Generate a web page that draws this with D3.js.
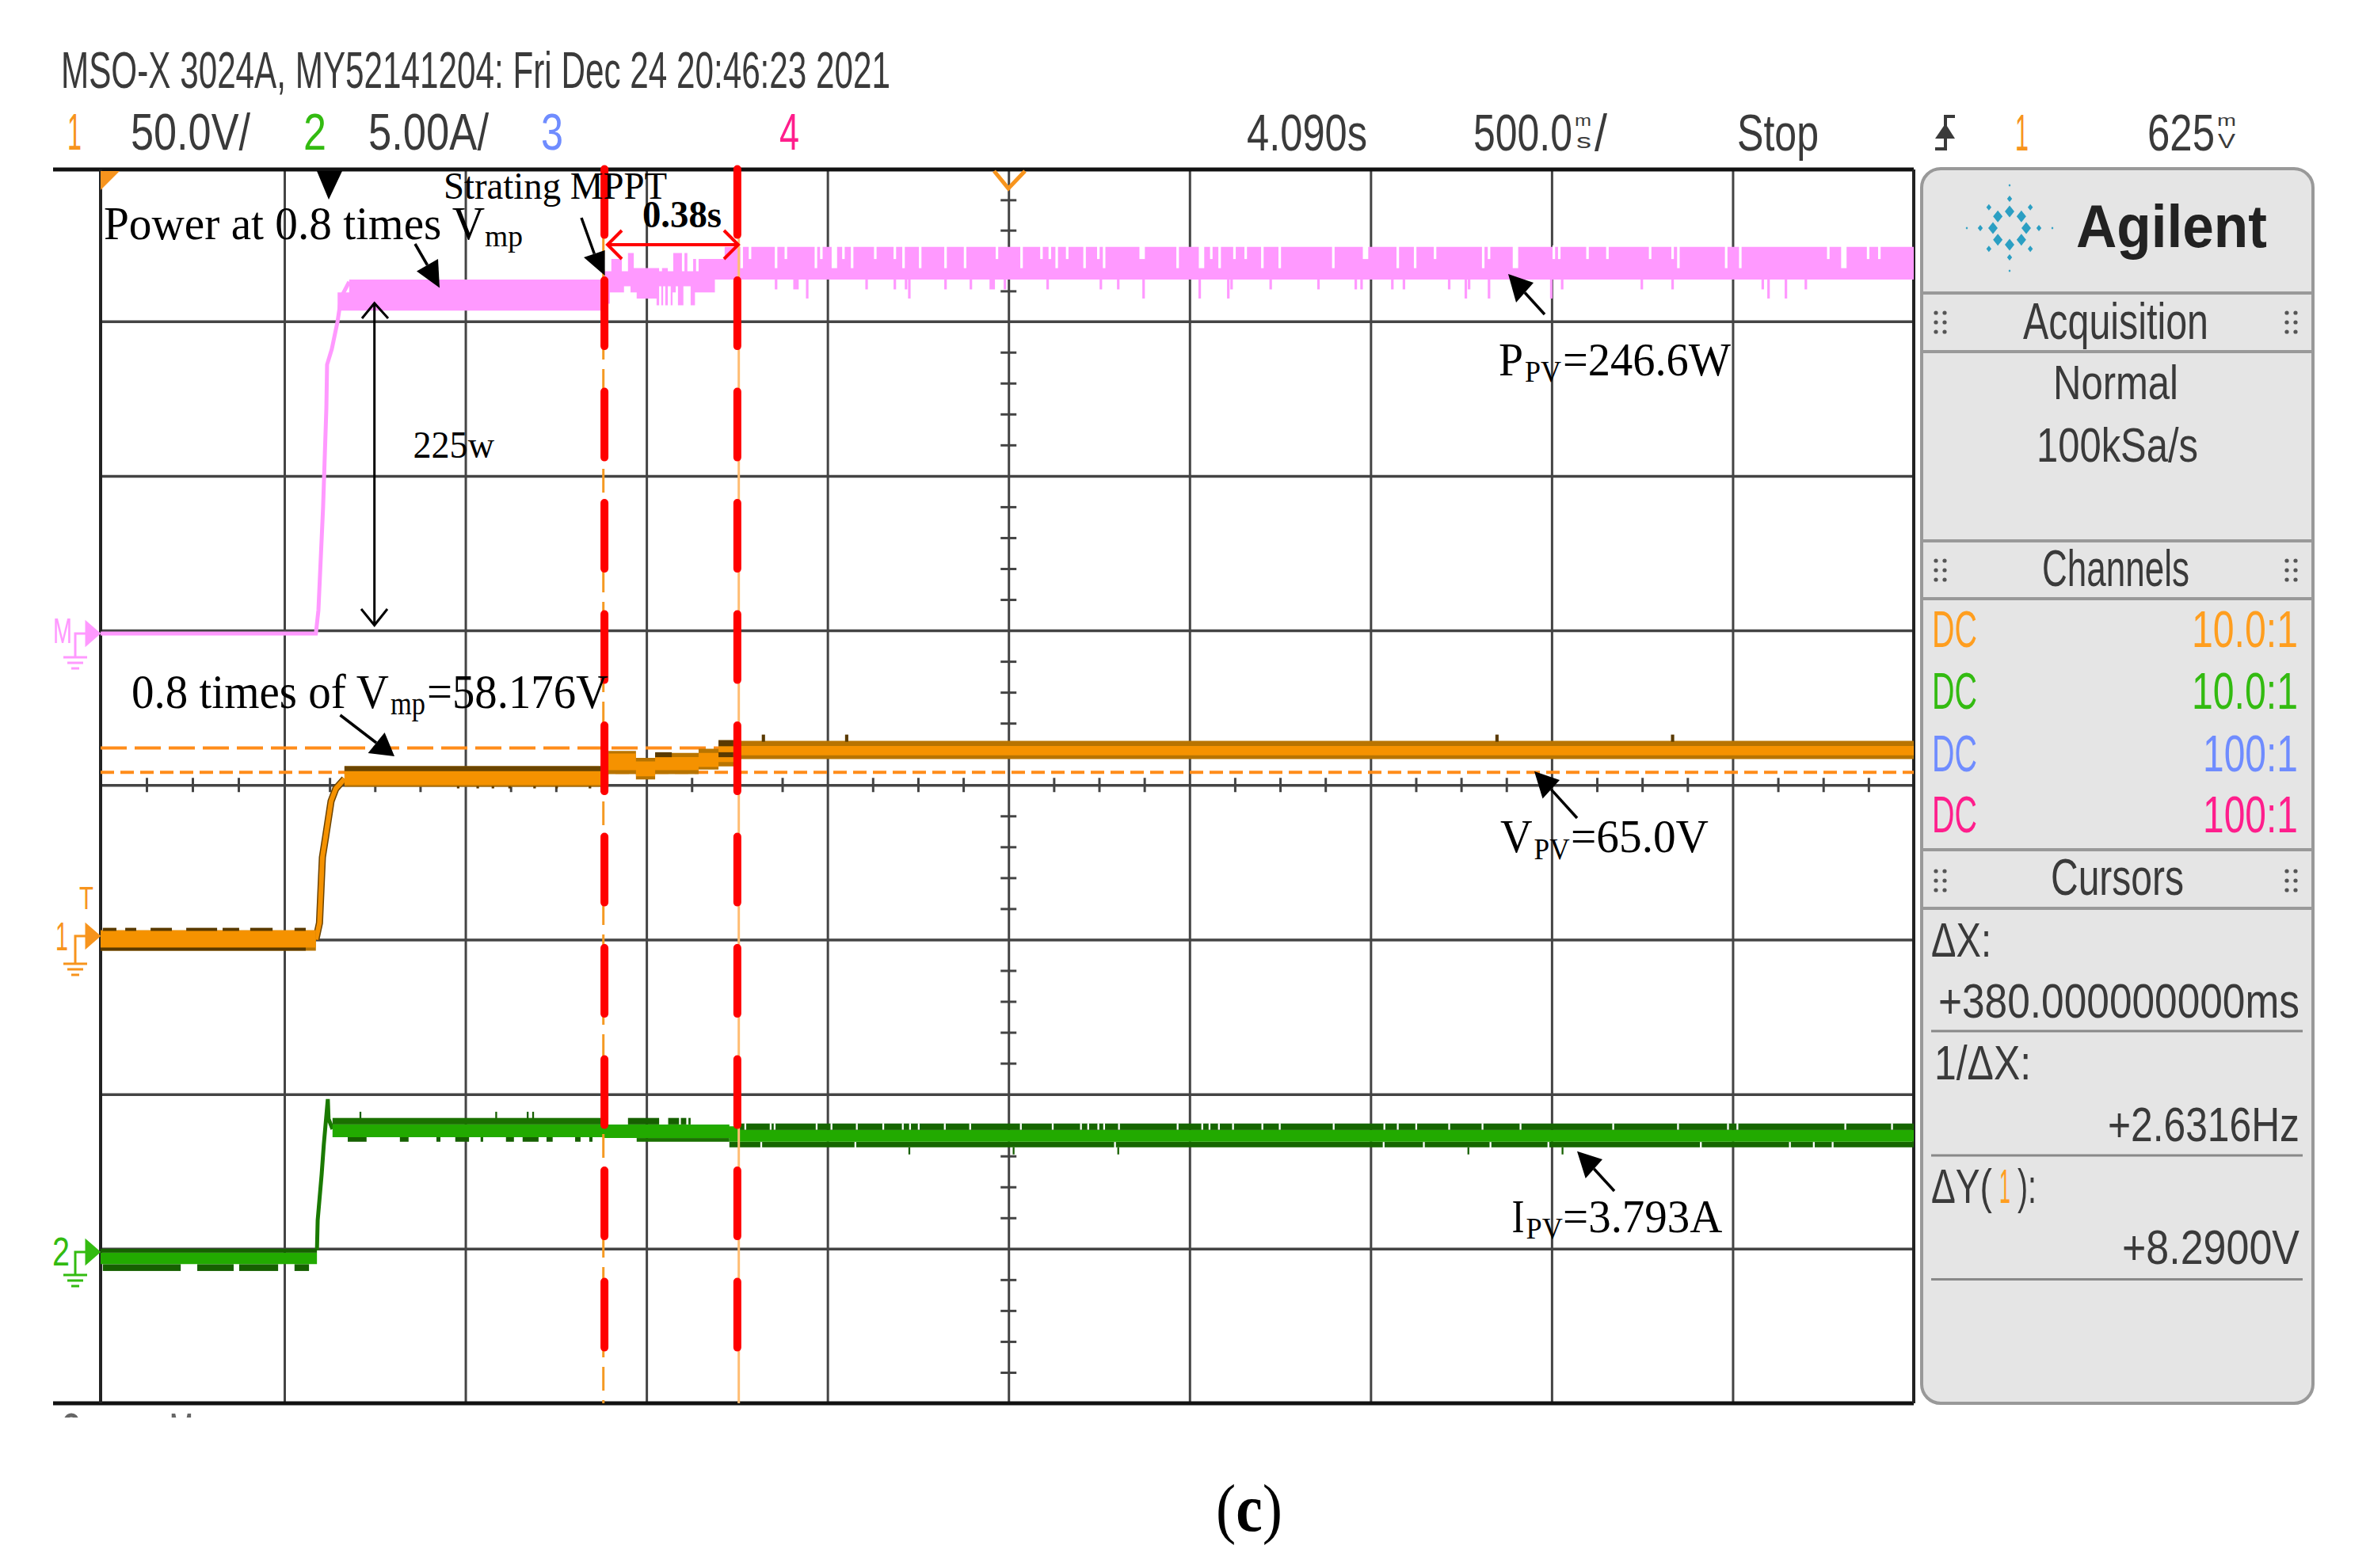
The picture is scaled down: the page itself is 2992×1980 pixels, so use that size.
<!DOCTYPE html>
<html>
<head>
<meta charset="utf-8">
<script src="https://cdn.jsdelivr.net/npm/d3@7"></script>
<style>
  body { margin: 0; background: #fff; }
  svg { display: block; }
</style>
</head>
<body>
<svg id="scope" width="2992" height="1980"></svg>
<script>
// Scope settings, one screen is 10 x 8 divisions
const msPerDiv = 500;
const wattsPerDiv = 100;
const voltsPerDiv = 50;
const ampsPerDiv = 5;

// Power trace (W), time in ms from the left of the screen
const pinkRiseT = [0, 587, 594, 607, 616, 618, 631, 647, 657, 679];
const pinkRiseW = [-2, -2, 13, 80, 144, 172, 182, 200, 216, 226];
const pinkHiT = [647, 679, 1384, 1403, 1432, 1449, 1465, 1535, 1543, 1559, 1574, 1598, 1605, 1613, 1629, 1637, 1644, 1716, 5000];
const pinkHiW = [219, 227.5, 233, 241, 233, 245, 235, 233, 235, 233, 245, 233, 245, 233, 241, 233, 241, 249, 249];
const pinkLoT = [647, 1384, 1399, 1438, 1456, 1473, 1528, 1535, 1541, 1546, 1552, 1559, 1567, 1572, 1581, 1587, 1602, 1622, 1634, 1689, 5000];
const pinkLoW = [207, 211.6, 219, 223, 219, 215, 210.6, 223, 210.6, 223, 210.6, 223, 210.6, 219, 223, 210.6, 223, 210.6, 219, 227.5, 227.5];
const notchDeepT = [1763, 1858, 1968, 2019, 2068, 2210, 2256, 2326, 2380, 2536, 2633, 2710, 2764, 2967, 3033, 3083, 3201, 3249, 3397, 3575, 3623, 3811, 3900, 4350, 4482, 4521, 4807];
const notchShallowT = [1786, 1885, 1983, 2044, 2132, 2186, 2468, 2591, 2614, 2662, 2748, 2869, 3060, 3124, 3155, 3486, 3678, 3827, 4006, 4021, 4099, 4154, 4272, 4334, 4764, 4874, 4905];
const spikeShallowT = [1858, 1913, 2108, 2186, 2217, 2326, 2396, 2455, 2490, 2608, 2755, 2803, 3116, 3224, 3356, 3459, 3475, 3560, 3592, 3717, 3772, 4029, 4249, 4334, 4583, 4702];
const spikeDeepT = [1944, 2226, 2873, 3028, 3107, 3763, 3827, 3999, 4599, 4647];
const wideT = [2019, 3033, 3900, 4807, 2869, 3486, 1913, 2455];

// Voltage trace (V)
const ch1T = [0, 587, 588, 666, 1395, 1471, 1524, 1644, 1699, 1755, 5000];
const ch1OuterHi = [3.0, 3.0, null, 56.1, 61.0, 58.8, 60.4, 61.7, 64.5, 64.3, 64.3];
const ch1OuterLo = [-3.6, -3.6, null, 49.4, 53.5, 51.8, 53.5, 55.0, 56.0, 58.4, 58.4];
const ch1CoreHi = [3.0, 3.0, null, 54.5, 60.2, 57.6, 59.0, 60.4, 62.4, 62.6, 62.6];
const ch1CoreLo = [-2.6, -2.6, null, 50.0, 54.8, 52.8, 54.8, 55.8, 57.4, 59.6, 59.6];
const ch1RiseT = [587, 597, 605, 614, 629, 642, 666];
const ch1RiseV = [0, 5.4, 26.6, 33.3, 44.8, 48.8, 52];
const ch1TickStart = [6, 67, 136, 233, 332, 407, 528];
const ch1TickEnd = [43, 97, 194, 317, 377, 468, 559];
const ch1SpikeT = [1823, 2053, 3849, 4334];
const ch1LowTickT = [980, 1034, 1076, 1122, 1191, 1252, 1344];

// Current trace (A)
const ch2T = [0, 590, 591, 633, 1384, 1729, 1755, 5000];
const ch2Hi = [-0.13, -0.13, null, 4.02, 4.02, 3.96, 3.84, 3.84];
const ch2Lo = [-0.5, -0.5, null, 3.61, 3.58, 3.46, 3.46, 3.46];
const ch2RiseT = [590, 592, 603, 609, 620, 622, 633];
const ch2RiseA = [-0.05, 0.92, 2.41, 3.38, 4.84, 4.2, 3.87];
const ch2LowStart = [6, 263, 377, 513, 528];
const ch2LowEnd = [218, 362, 483, 498, 568];
const ch2PlateauTickStart = [675, 819, 920, 972, 1042, 1112, 1158, 1224, 1303, 1342];
const ch2PlateauTickEnd = [727, 843, 931, 1010, 1049, 1134, 1202, 1241, 1318, 1351];
const ch2SpikeUpT = [710, 1085, 1172, 1187];
const ch2SpikeDownT = [2226, 2514, 2803, 3770, 4030];
const ch2MidTickStart = [1449, 1560, 1595, 1616];
const ch2MidTickEnd = [1535, 1590, 1610, 1622];
const ch2TopGapT = [1773, 1843, 1854, 1970, 2011, 2081, 2154, 2208, 2228, 2252, 2324, 2394, 2534, 2622, 2700, 2720, 2748, 2764, 2805, 2967, 3035, 3055, 3081, 3120, 3201, 3249, 3398, 3538, 3575, 3626, 3717, 3809, 3914, 4170, 4349, 4487, 4513, 4811, 4940];
const ch2BottomGapT = [1817, 2077, 2794, 3536, 3647, 3831, 3991, 4412, 4658, 4724, 4776];

// Cursors
const thinCursorT = [1381, 1755];
const redCursorT = [1384, 1751];
const levelCursorV = [62.0, 54.1];

// Grid
const vDivs = d3.range(0, 11);
const hDivs = d3.range(0, 9);
const xMinorTicks = d3.range(0, 40.01).map(d => d / 4).filter(d => d % 1 !== 0);
const yMinorTicks = d3.range(0, 40.01).map(d => d / 5).filter(d => d % 1 !== 0);

const svg = d3.select('#scope');

// The picture was rescaled a little unevenly, so first divisions get their own stop
const xDiv = d3.scaleLinear().domain([0, 1, 10]).range([127, 359, 2416]);
const yDiv = d3.scaleLinear().domain([0, 1, 8]).range([214, 405.7, 1772]);
const x = t => xDiv(t / msPerDiv);
const yP = w => yDiv(3 - w / wattsPerDiv);
const yV = v => yDiv(5 - v / voltsPerDiv);
const yA = a => yDiv(7 - a / ampsPerDiv);

const ink = '#3a3a3a';
const orange = '#f59200';
const green = '#22aa00';
const pink = '#ff99ff';
const scopeFont = '"Liberation Sans", Arial, sans-serif';
const paperFont = '"Liberation Serif", "Times New Roman", serif';

// Text squeezed to the width measured on the picture
function label(left, right, base, str, size, fill, family, weight) {
  return svg.append('text')
    .attr('x', left)
    .attr('y', base)
    .attr('textLength', right - left)
    .attr('lengthAdjust', 'spacingAndGlyphs')
    .attr('font-family', family || scopeFont)
    .attr('font-size', size)
    .attr('font-weight', weight || 'normal')
    .attr('fill', fill || ink)
    .text(str);
}

function stepAt(T, V, t) {
  return V[Math.max(0, d3.bisectRight(T, t) - 1)];
}

function envelope(T, hi, lo, yScale, fill) {
  const pts = T.map((t, i) => ({ t, hi: hi[i], lo: lo[i] }));
  svg.append('path')
    .attr('d', d3.area()
      .defined(d => d.hi !== null)
      .curve(d3.curveStepAfter)
      .x(d => x(d.t))
      .y0(d => yScale(d.lo))
      .y1(d => yScale(d.hi))(pts))
    .attr('fill', fill);
}

function bars(starts, ends, hi, lo, yScale, fill) {
  svg.append('g').attr('fill', fill).selectAll('rect')
    .data(starts)
    .join('rect')
    .attr('x', d => x(d))
    .attr('width', (d, i) => x(ends[i]) - x(d))
    .attr('y', yScale(hi))
    .attr('height', yScale(lo) - yScale(hi));
}

function marks(times, width, hi, lo, yScale, fill) {
  bars(times.map(t => t - width(t) / 2), times.map(t => t + width(t) / 2), hi, lo, yScale, fill);
}

function riseLine(T, V, yScale, color, width) {
  svg.append('path')
    .attr('d', d3.line().x(d => x(d[0])).y(d => yScale(d[1]))(T.map((t, i) => [t, V[i]])))
    .attr('fill', 'none')
    .attr('stroke', color)
    .attr('stroke-width', width);
}

// Grid lines and centre ticks from d3 axes
function styleAxis(g, color, width) {
  g.select('.domain').remove();
  g.selectAll('text').remove();
  g.selectAll('line').attr('stroke', color).attr('stroke-width', width);
}

svg.append('g')
  .attr('transform', `translate(0,${yDiv(8)})`)
  .call(d3.axisBottom(xDiv).tickValues(vDivs).tickSize(yDiv(0) - yDiv(8)).tickFormat(''))
  .call(styleAxis, '#444', 3);
svg.append('g')
  .attr('transform', `translate(${xDiv(10)},0)`)
  .call(d3.axisLeft(yDiv).tickValues(hDivs.slice(1, -1)).tickSize(xDiv(10) - xDiv(0)).tickFormat(''))
  .call(styleAxis, '#444', 3.5);

svg.append('g')
  .attr('transform', `translate(0,${yDiv(4) - 9})`)
  .call(d3.axisBottom(xDiv).tickValues(xMinorTicks).tickSize(18).tickFormat(''))
  .call(styleAxis, '#444', 3);
svg.append('g')
  .attr('transform', `translate(${xDiv(5) - 10},0)`)
  .call(d3.axisRight(yDiv).tickValues(yMinorTicks).tickSize(20).tickFormat(''))
  .call(styleAxis, '#444', 3);

// Heavy frame, top and bottom rules run out past the left edge
[0, 8].forEach(d => {
  svg.append('line').attr('x1', 67).attr('x2', xDiv(10)).attr('y1', yDiv(d)).attr('y2', yDiv(d))
    .attr('stroke', '#111').attr('stroke-width', 5);
});
[0, 10].forEach(d => {
  svg.append('line').attr('x1', xDiv(d)).attr('x2', xDiv(d)).attr('y1', yDiv(0)).attr('y2', yDiv(8))
    .attr('stroke', '#222').attr('stroke-width', 4);
});

// Power trace
riseLine(pinkRiseT, pinkRiseW, yP, pink, 5);
const pinkT = Array.from(new Set(pinkHiT.concat(pinkLoT))).sort((a, b) => a - b);
envelope(pinkT, pinkT.map(t => stepAt(pinkHiT, pinkHiW, t)), pinkT.map(t => stepAt(pinkLoT, pinkLoW, t)), yP, pink);
const markWidth = t => (wideT.includes(t) ? 15 : 7);
marks(notchDeepT, markWidth, 250, 235, yP, '#fff');
marks(notchShallowT, markWidth, 250, 241, yP, '#fff');
marks(spikeShallowT, markWidth, 227.5, 221, yP, pink);
marks(spikeDeepT, markWidth, 227.5, 215, yP, pink);

// Level cursors
levelCursorV.forEach((v, i) => {
  svg.append('line').attr('x1', xDiv(0)).attr('x2', xDiv(10)).attr('y1', yV(v)).attr('y2', yV(v))
    .attr('stroke', '#ff8c1a').attr('stroke-width', 4)
    .attr('stroke-dasharray', i === 0 ? '33 10' : '17 8');
});

// Voltage trace
riseLine(ch1RiseT, ch1RiseV, yV, '#6b4300', 9);
riseLine(ch1RiseT, ch1RiseV, yV, orange, 6);
envelope(ch1T, ch1OuterHi, ch1OuterLo, yV, '#b87400');
envelope(ch1T, ch1CoreHi, ch1CoreLo, yV, orange);
bars(ch1TickStart, ch1TickEnd, 3.8, 2.8, yV, '#5a3a00');
bars([0], [559], -2.6, -3.6, yV, '#5a3a00');
bars([666], [1384], 56.1, 54.5, yV, '#6b4500');
bars([1524, 1699], [1570, 1740], 60.6, 59.0, yV, '#5a3a00');
bars([1699], [1740], 64.5, 62.6, yV, '#5a3a00');
marks(ch1SpikeT, () => 9, 66.3, 64, yV, '#5a3a00');
marks(ch1LowTickT, () => 7, 49.6, 48.9, yV, '#5a3a00');

// Current trace
riseLine(ch2RiseT, ch2RiseA, yA, '#1a7a00', 5);
bars([0], [590], 0, -0.13, yA, '#166000');
marks(ch2SpikeUpT, () => 5, 4.43, 4.2, yA, '#166000');
bars([633], [1384], 4.23, 4.02, yA, '#1a7000');
bars(ch2MidTickStart, ch2MidTickEnd, 4.23, 4.02, yA, '#166000');
bars(ch2PlateauTickStart, ch2PlateauTickEnd, 3.61, 3.46, yA, '#166000');
bars(ch2LowStart, ch2LowEnd, -0.5, -0.72, yA, '#166000');
bars([1473], [1729], 3.58, 3.46, yA, '#1a7000');
bars([1755], [5000], 4.05, 3.84, yA, '#166600');
bars([1729], [5000], 3.46, 3.28, yA, '#166600');
envelope(ch2T, ch2Hi, ch2Lo, yA, green);
marks(ch2TopGapT, () => 5, 4.06, 3.85, yA, '#fff');
marks(ch2BottomGapT, () => 5, 3.45, 3.27, yA, '#fff');
marks(ch2SpikeDownT, () => 5, 3.28, 3.05, yA, '#166000');

// Time cursors, the thin scope ones with the heavy red dashes over them
svg.append('line').attr('x1', x(thinCursorT[0])).attr('x2', x(thinCursorT[0])).attr('y1', yDiv(0)).attr('y2', yDiv(8))
  .attr('stroke', '#f59a23').attr('stroke-width', 3).attr('stroke-dasharray', '30 12');
svg.append('line').attr('x1', x(thinCursorT[1])).attr('x2', x(thinCursorT[1])).attr('y1', yDiv(0)).attr('y2', yDiv(8))
  .attr('stroke', '#ffbd73').attr('stroke-width', 3);
redCursorT.forEach(t => {
  svg.append('line').attr('x1', x(t)).attr('x2', x(t)).attr('y1', 213.6).attr('y2', 1702)
    .attr('stroke', '#f00').attr('stroke-width', 10)
    .attr('stroke-linecap', 'round').attr('stroke-dasharray', '83 57.5');
});

// Screen markers
svg.append('path').attr('d', 'M127,216H151L127,240Z').attr('fill', '#f7941d');
svg.append('path').attr('d', 'M400,216H432L415,252Z').attr('fill', '#000');
svg.append('path').attr('d', 'M1255,216L1273,238L1294,216').attr('fill', 'none').attr('stroke', '#f7941d').attr('stroke-width', 5);

// Channel ground symbols on the left
function groundMark(tipY, groundY, color) {
  const g = svg.append('g').attr('fill', 'none').attr('stroke', color).attr('stroke-width', 3);
  g.append('path').attr('d', `M125,${tipY}L109,${tipY - 14}V${tipY + 14}Z`).attr('fill', color);
  g.append('path').attr('d', `M109,${tipY}H95V${groundY}`);
  g.append('path').attr('d', `M80,${groundY}H110M85,${groundY + 7}H105M90,${groundY + 14}H100`);
}
groundMark(800, 830, '#ff99ff');
groundMark(1182, 1217, '#f7941d');
groundMark(1581, 1610, '#33bb11');
label(67, 91, 812, 'M', 44, '#ff99ff');
label(70, 86, 1200, '1', 50, '#f7941d');
label(100, 118, 1148, 'T', 40, '#f7941d');
label(66, 88, 1598, '2', 50, '#33bb11');

// Header
label(77, 1124, 111, 'MSO-X 3024A, MY52141204: Fri Dec 24 20:46:23 2021', 64);
label(85, 103, 189, '1', 64, '#f7941d');
label(165, 316, 189, '50.0V/', 64);
label(383, 412, 189, '2', 64, '#33bb11');
label(465, 617, 189, '5.00A/', 64);
label(683, 711, 189, '3', 64, '#6f8cff');
label(984, 1009, 189, '4', 64, '#ff1e8c');
label(1574, 1726, 190, '4.090s', 64);
label(1860, 1985, 190, '500.0', 64);
label(1988, 2009, 159, 'm', 20);
label(1990, 2009, 187, 's', 26);
label(2013, 2029, 190, '/', 64);
label(2193, 2296, 190, 'Stop', 64);
svg.append('path').attr('d', 'M2468,147H2456V188H2443').attr('fill', 'none').attr('stroke', ink).attr('stroke-width', 4);
svg.append('path').attr('d', 'M2456,156L2468,175H2443Z').attr('fill', ink);
label(2544, 2561, 190, '1', 64, '#f7941d');
label(2711, 2796, 190, '625', 64);
label(2799, 2823, 159, 'm', 20);
label(2800, 2822, 187, 'V', 26);

// Side panel
svg.append('rect').attr('x', 2426).attr('y', 213).attr('width', 494).attr('height', 1559).attr('rx', 24)
  .attr('fill', '#e5e5e5').attr('stroke', '#999').attr('stroke-width', 4);
[370, 444, 683, 756, 1073, 1147].forEach(y => {
  svg.append('line').attr('x1', 2426).attr('x2', 2920).attr('y1', y).attr('y2', y).attr('stroke', '#999').attr('stroke-width', 4);
});
[1302, 1459, 1615.5].forEach(y => {
  svg.append('line').attr('x1', 2438).attr('x2', 2907).attr('y1', y).attr('y2', y).attr('stroke', '#888').attr('stroke-width', 3);
});

// Agilent spark
const sparkArms = d3.range(0, 360, 45);
const sparkDots = [[21, 7.5], [37, 4], [54, 1.8]];
sparkArms.forEach(angle => {
  const a = angle * Math.PI / 180;
  const diagonal = angle % 90 !== 0;
  sparkDots.forEach(([r, s], i) => {
    if (diagonal && i === 2) return;
    const cx = 2537 + r * Math.cos(a);
    const cy = 288 + r * Math.sin(a);
    svg.append('path')
      .attr('d', `M${cx},${cy - s}L${cx + s * 0.8},${cy}L${cx},${cy + s}L${cx - s * 0.8},${cy}Z`)
      .attr('fill', '#2b9fc3');
  });
});
label(2621, 2862, 312, 'Agilent', 76, '#222', scopeFont, 'bold');

// Grip dots in the section headings
[407, 720, 1112].forEach(cy => {
  [2444, 2455, 2887, 2898].forEach(cx => {
    [-12, 0, 12].forEach(dy => {
      svg.append('circle').attr('cx', cx).attr('cy', cy + dy).attr('r', 2.6).attr('fill', '#555');
    });
  });
});

label(2554, 2788, 428, 'Acquisition', 64);
label(2592, 2750, 504, 'Normal', 62);
label(2571, 2775, 583, '100kSa/s', 62);
label(2578, 2764, 739.5, 'Channels', 64);
label(2439, 2496, 817, 'DC', 64, '#ff9e1f');
label(2439, 2496, 895, 'DC', 64, '#33bb11');
label(2439, 2496, 973.5, 'DC', 64, '#6f8cff');
label(2439, 2496, 1051, 'DC', 64, '#ff1e8c');
label(2767, 2901, 817, '10.0:1', 64, '#ff9e1f');
label(2767, 2901, 895, '10.0:1', 64, '#33bb11');
label(2781, 2901, 973.5, '100:1', 64, '#6f8cff');
label(2781, 2901, 1051, '100:1', 64, '#ff1e8c');
label(2589, 2757, 1130, 'Cursors', 64);
label(2438, 2514, 1207.6, 'ΔX:', 62);
label(2447, 2903, 1285, '+380.000000000ms', 62);
label(2442, 2564, 1363, '1/ΔX:', 62);
label(2661, 2903, 1441, '+2.6316Hz', 62);
label(2438, 2515, 1519, 'ΔY(', 62);
label(2524, 2538, 1519, '1', 62, '#ff9e1f');
label(2547, 2571, 1519, '):', 62);
label(2679, 2903, 1596, '+8.2900V', 62);

// Text cut off by the bottom rule of the photo
svg.append('clipPath').attr('id', 'cutoff').append('rect').attr('x', 60).attr('y', 1775).attr('width', 300).attr('height', 15);
label(76, 305, 1830, 'Cursors Menu', 64, '#666').attr('clip-path', 'url(#cutoff)');

// Arrows added on the paper figure
function arrow(x0, y0, tipX, tipY, ax, ay, bx, by) {
  svg.append('line').attr('x1', x0).attr('y1', y0).attr('x2', (ax + bx) / 2).attr('y2', (ay + by) / 2)
    .attr('stroke', '#000').attr('stroke-width', 3.5);
  svg.append('path').attr('d', `M${tipX},${tipY}L${ax},${ay}L${bx},${by}Z`).attr('fill', '#000');
}
arrow(524, 308, 555, 363.6, 526, 342.5, 553, 327);
arrow(734, 275, 763.6, 348, 737, 325, 763.6, 316);
arrow(1950, 397, 1904, 346, 1914, 382, 1936, 357);
arrow(429.5, 903, 498, 955, 464.6, 951, 485.6, 925);
arrow(1991, 1033, 1937, 974, 1947.5, 1008.6, 1969, 985);
arrow(2038, 1504, 1991, 1453.7, 2001.7, 1488, 2023, 1464);

// 225w span
svg.append('path').attr('d', 'M472.7,382.7V789.5M457,402L472.7,382.7L490,402M456,769L472.7,789.5L489,769')
  .attr('fill', 'none').attr('stroke', '#000').attr('stroke-width', 3);

// 0.38s span
svg.append('path').attr('d', 'M767,309H932M785,291L767,309L785,327M914,291L932,309L914,327')
  .attr('fill', 'none').attr('stroke', '#f00').attr('stroke-width', 4);

// Notes on the paper figure
label(560, 842, 250.7, 'Strating MPPT', 48, '#000', paperFont);
label(131, 612, 302, 'Power at 0.8 times V', 59, '#000', paperFont);
label(612, 660, 311, 'mp', 38, '#000', paperFont);
label(811, 911, 287, '0.38s', 48, '#000', paperFont, 'bold');
label(521.5, 624, 578, '225w', 48, '#000', paperFont);
label(166, 491, 893.5, '0.8 times of V', 62, '#000', paperFont);
label(493, 537, 902, 'mp', 40, '#000', paperFont);
label(539, 768, 893.5, '=58.176V', 62, '#000', paperFont);
label(1892, 1923, 474, 'P', 60, '#000', paperFont);
label(1925, 1971, 482, 'PV', 38, '#000', paperFont);
label(1973, 2185, 474, '=246.6W', 60, '#000', paperFont);
label(1894, 1934.6, 1075.5, 'V', 60, '#000', paperFont);
label(1936.6, 1981.6, 1084.5, 'PV', 38, '#000', paperFont);
label(1983, 2157, 1075.5, '=65.0V', 60, '#000', paperFont);
label(1908.5, 1924.5, 1556, 'I', 60, '#000', paperFont);
label(1926.6, 1972.8, 1564, 'PV', 38, '#000', paperFont);
label(1973, 2174.5, 1556, '=3.793A', 60, '#000', paperFont);

// Panel letter of the figure
svg.append('text')
  .attr('x', 1535).attr('y', 1933)
  .attr('textLength', 84).attr('lengthAdjust', 'spacingAndGlyphs')
  .attr('font-family', paperFont).attr('font-size', 85)
  .html('(<tspan font-weight="bold">c</tspan>)');
</script>
</body>
</html>
